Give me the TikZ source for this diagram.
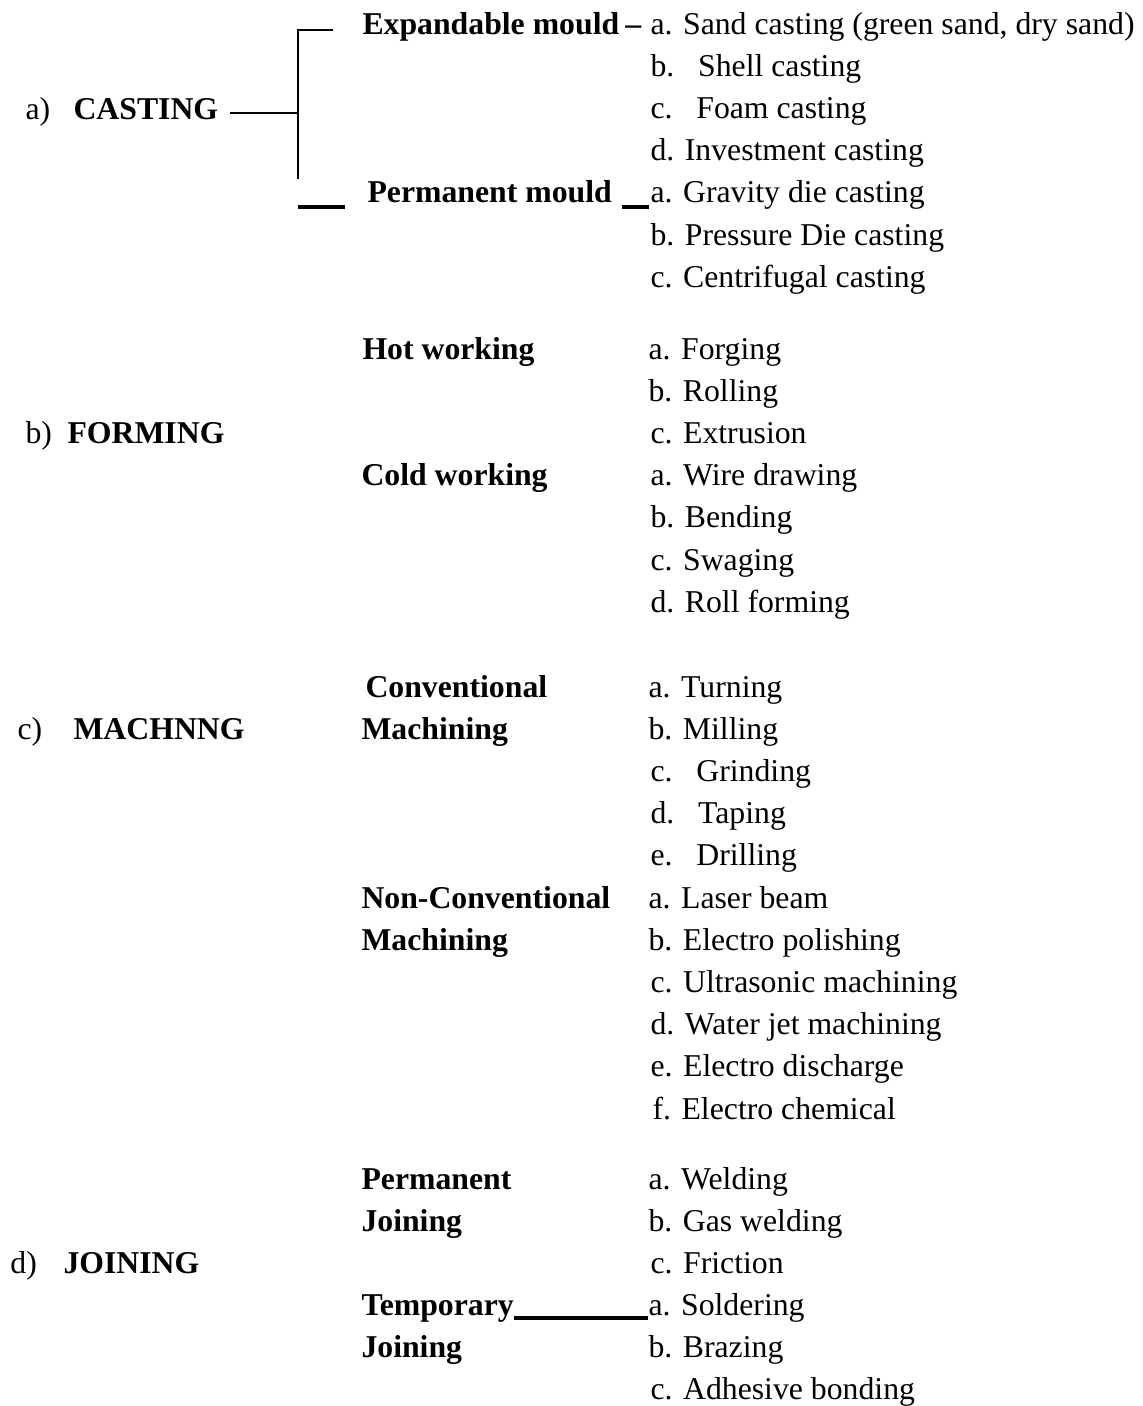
\documentclass[tikz,border=0pt]{standalone}
\usepackage{fontspec}
\setmainfont{Liberation Serif}
\begin{document}
\begin{tikzpicture}[x=0.4pt,y=-0.4pt,
  txt/.style={anchor=base west, inner sep=0pt, font=\fontsize{12.7}{15}\selectfont},
  hd/.style={anchor=base west, inner sep=0pt, font=\fontsize{12.7}{15}\selectfont\bfseries},
  thin line/.style={line width=0.8pt},
  thick line/.style={line width=1.6pt}]
\useasboundingbox (0,0) rectangle (1143,1406);
% ---------- CASTING ----------
\node[txt] (la) at (25,119) {a)};
\node[hd] (casting) at (73,119) {CASTING};
\node[hd] (expand) at (362,34) {Expandable mould\hspace{2.5pt}–};
\node[txt] (c1) at (650,34) {a. Sand casting (green sand, dry sand)};
\node[txt] (c2) at (650,76.2) {b.~~~Shell casting};
\node[txt] (c3) at (650,118.4) {c.~~~Foam casting};
\node[txt] (c4) at (650,160.6) {d. Investment casting};
\node[hd] (perm) at (367,202.8) {Permanent mould};
\node[txt] (c5) at (650,202.8) {a. Gravity die casting};
\node[txt] (c6) at (650,245) {b. Pressure Die casting};
\node[txt] (c7) at (650,287.2) {c. Centrifugal casting};
\coordinate (cl) at (230,113);
\coordinate (vm) at (298,113);
\coordinate (vt) at (298,30);
\coordinate (et) at (333,30);
\coordinate (vb) at (298,179);
\coordinate (ul1) at (298,207);
\coordinate (ul2) at (345,207);
\coordinate (pu1) at (622,207);
\coordinate (pu2) at (649,207);
\draw[thin line] (cl) -- (vm);
\draw[thin line] (et) -- (vt) -- (vb);
\draw[thick line] (ul1) -- (ul2);
\draw[thick line] (pu1) -- (pu2);
% ---------- FORMING ----------
\node[txt] (lb) at (25,443.4) {b)};
\node[hd] (forming) at (67,443.4) {FORMING};
\node[hd] (hot) at (362,359) {Hot working};
\node[txt] (f1) at (648,359) {a. Forging};
\node[txt] (f2) at (648,401.2) {b. Rolling};
\node[txt] (f3) at (650,443.4) {c. Extrusion};
\node[hd] (cold) at (361,485.6) {Cold working};
\node[txt] (f4) at (650,485.6) {a. Wire drawing};
\node[txt] (f5) at (650,527.8) {b. Bending};
\node[txt] (f6) at (650,570) {c. Swaging};
\node[txt] (f7) at (650,612.2) {d. Roll forming};
% ---------- MACHINING ----------
\node[txt] (lc) at (17,739.2) {c)};
\node[hd] (machnng) at (73,739.2) {MACHNNG};
\node[hd] (conv1) at (365,697) {Conventional};
\node[hd] (conv2) at (361,739.2) {Machining};
\node[txt] (m1) at (648,697) {a. Turning};
\node[txt] (m2) at (648,739.2) {b. Milling};
\node[txt] (m3) at (650,781.4) {c.~~~Grinding};
\node[txt] (m4) at (650,823.6) {d.~~~Taping};
\node[txt] (m5) at (650,865.8) {e.~~~Drilling};
\node[hd] (nconv1) at (361,908) {Non-Conventional};
\node[hd] (nconv2) at (361,950.2) {Machining};
\node[txt] (n1) at (648,908) {a. Laser beam};
\node[txt] (n2) at (648,950.2) {b. Electro polishing};
\node[txt] (n3) at (650,992.4) {c. Ultrasonic machining};
\node[txt] (n4) at (650,1034.6) {d. Water jet machining};
\node[txt] (n5) at (650,1076.8) {e. Electro discharge};
\node[txt] (n6) at (652,1119) {f. Electro chemical};
% ---------- JOINING ----------
\node[txt] (ld) at (10,1273) {d)};
\node[hd] (joining) at (63,1273) {JOINING};
\node[hd] (pj1) at (361,1189) {Permanent};
\node[hd] (pj2) at (361,1231) {Joining};
\node[txt] (j1) at (648,1189) {a. Welding};
\node[txt] (j2) at (648,1231) {b. Gas welding};
\node[txt] (j3) at (650,1273) {c. Friction};
\node[hd] (tj1) at (361,1315) {Temporary};
\node[hd] (tj2) at (361,1357) {Joining};
\node[txt] (j4) at (648,1315) {a. Soldering};
\node[txt] (j5) at (648,1357) {b. Brazing};
\node[txt] (j6) at (650,1399) {c. Adhesive bonding};
\coordinate (tu1) at (tj1.base east);
\coordinate (tu2) at (j4.base west);
\draw[thick line] ([yshift=-1.2pt]tu1) -- ([yshift=-1.2pt]tu2);
\end{tikzpicture}
\end{document}
